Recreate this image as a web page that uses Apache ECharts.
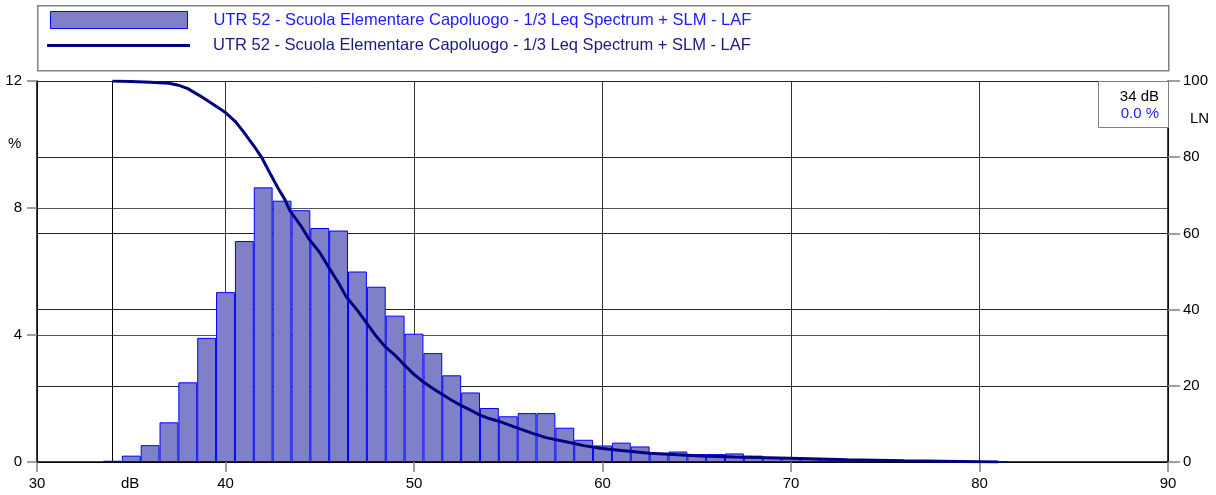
<!DOCTYPE html>
<html>
<head>
<meta charset="utf-8">
<script src="https://cdn.jsdelivr.net/npm/echarts@6/dist/echarts.min.js"></script>
<style>
html,body{margin:0;padding:0;background:#fff;}
#chart{width:1216px;height:495px;}
</style>
</head>
<body>
<div id="chart"></div>
<script>
// ---- data ----
var seriesName = 'UTR 52 - Scuola Elementare Capoluogo - 1/3 Leq Spectrum + SLM - LAF';
var binDb = [34,35,36,37,38,39,40,41,42,43,44,45,46,47,48,49,50,51,52,53,54,55,56,57,58,59,60,61,62,63,64,65,66,67,68,69,70,71,72,73,74,75,76,77,78,79,80,81];
var binPct = [0.04,0.2,0.53,1.25,2.51,3.91,5.35,6.96,8.65,8.23,7.93,7.37,7.29,6.0,5.52,4.61,4.04,3.43,2.73,2.19,1.70,1.44,1.54,1.54,1.08,0.70,0.52,0.61,0.49,0.29,0.33,0.25,0.25,0.27,0.2,0.15,0.13,0.11,0.09,0.08,0.07,0.06,0.05,0.04,0.04,0.03,0.03,0.02];
var lnDb  = [34.0,35.0,36.0,37.0,37.5,38.0,38.65,39.3,40.0,40.5,40.95,41.5,41.9,42.36,42.8,43.16,43.4,44.0,44.4,45.0,45.45,46.0,46.4,47.0,47.5,48.0,48.46,49.0,49.4,50.0,50.5,51.0,51.55,52.0,52.44,53.0,53.5,54.0,54.56,55.0,55.5,56.3,57.0,58.45,59.0,59.87,61.0,62.5,64.0,65.2,67.0,70.5,73.0,76.0,79.0,81.0];
var lnPct = [100,99.9,99.7,99.4,98.9,98.0,96.1,94.0,91.7,89.5,86.7,83.0,80.1,75.8,71.8,68.8,66.1,62.0,58.7,55.0,51.3,47.0,43.4,39.8,36.4,33.0,30.3,28.0,25.9,23.0,21.0,19.3,17.6,16.2,15.0,13.6,12.3,11.4,10.6,9.8,8.9,7.5,6.4,4.9,4.3,3.6,3.0,2.3,1.9,1.6,1.3,0.9,0.6,0.35,0.15,0.0];
var xTicks = {min:30, max:90, interval:10};
var leftTicks = {min:0, max:12, interval:4};
var rightTicks = {min:0, max:100, interval:20};
var cursorDb = 34;
var cursorText = ['34 dB','0.0 %'];

var barData = binDb.map(function(d,i){return [d, binPct[i]];});
var lineData = lnDb.map(function(d,i){return [d, lnPct[i]];});

var FONT = 'Liberation Sans, Arial, sans-serif';
var chart = echarts.init(document.getElementById('chart'));
chart.setOption({
  animation:false,
  backgroundColor:'#fff',
  textStyle:{fontFamily:FONT},
  grid:{left:37, right:48, top:81, bottom:33, containLabel:false},
  legend:[
    {data:[seriesName], left:45, top:6, itemWidth:137, itemHeight:17, icon:'rect',
     itemStyle:{color:'#8080c8', borderColor:'#0000ff', borderWidth:1},
     textStyle:{color:'#1a1aff', fontSize:16.5, fontFamily:FONT, padding:[0,0,0,21]}, selectedMode:false},
    {data:[seriesName+' '], left:42, top:32, itemWidth:143, itemHeight:3, icon:'rect',
     itemStyle:{color:'#000080'},
     textStyle:{color:'#1a1a80', fontSize:16.5, fontFamily:FONT, padding:[0,0,0,18]}, selectedMode:false,
     formatter:function(n){return n.trim();}}
  ],
  xAxis:{type:'value', min:xTicks.min, max:xTicks.max, interval:xTicks.interval,
    axisLine:{show:true, onZero:false, lineStyle:{color:'#000', width:1.5}},
    axisTick:{show:true, length:10, lineStyle:{color:'#808080', width:1.5}},
    axisLabel:{color:'#000', fontSize:15, margin:14, fontFamily:FONT},
    splitLine:{show:true, lineStyle:{color:'#333', width:1}}},
  yAxis:[
    {type:'value', min:leftTicks.min, max:leftTicks.max, interval:leftTicks.interval,
     axisLine:{show:true, lineStyle:{color:'#000', width:1.5}},
     axisTick:{show:true, length:10, lineStyle:{color:'#808080', width:1.5}},
     axisLabel:{color:'#000', fontSize:15, margin:15, fontFamily:FONT},
     splitLine:{show:true, lineStyle:{color:'#555', width:1}}},
    {type:'value', min:rightTicks.min, max:rightTicks.max, interval:rightTicks.interval, position:'right',
     axisLine:{show:true, lineStyle:{color:'#000', width:1.5}},
     axisTick:{show:true, length:12, lineStyle:{color:'#808080', width:1.5}},
     axisLabel:{color:'#000', fontSize:15, margin:15, fontFamily:FONT},
     splitLine:{show:true, lineStyle:{color:'#222', width:1}}}
  ],
  series:[
    {name:seriesName, type:'bar', yAxisIndex:0, data:barData, barWidth:'100%', barGap:'-100%',
     itemStyle:{color:'#8080c8', borderColor:'#0000ff', borderWidth:1},
     z:3,
     markLine:{silent:true, symbol:'none', label:{show:false},
       lineStyle:{color:'#000', width:1, type:'solid'}, data:[{xAxis:cursorDb}]}},
    {name:seriesName+' ', type:'line', yAxisIndex:1, data:lineData, showSymbol:false, symbol:'none',
     lineStyle:{color:'#000080', width:3}, itemStyle:{color:'#000080'}, z:5}
  ],
  graphic:[
    {type:'rect', left:37, top:5, shape:{width:1131, height:65}, z:-1,
     style:{fill:'#fff', stroke:'#808080', lineWidth:1.5}},
    {type:'text', left:8, top:136, style:{text:'%', font:'15px '+FONT, fill:'#000'}},
    {type:'text', left:1190, top:111, style:{text:'LN', font:'15px '+FONT, fill:'#000'}},
    {type:'text', left:121, top:476, style:{text:'dB', font:'15px '+FONT, fill:'#000'}},
    {type:'rect', left:1098, top:81, shape:{width:70, height:46}, z:10,
     style:{fill:'#fff', stroke:'#808080', lineWidth:1}},
    {type:'text', right:57, top:89, z:11, style:{text:cursorText[0], font:'15px '+FONT, fill:'#000', align:'right'}},
    {type:'text', right:57, top:106, z:11, style:{text:cursorText[1], font:'15px '+FONT, fill:'#1a1aff', align:'right'}}
  ]
});
</script>
</body>
</html>
